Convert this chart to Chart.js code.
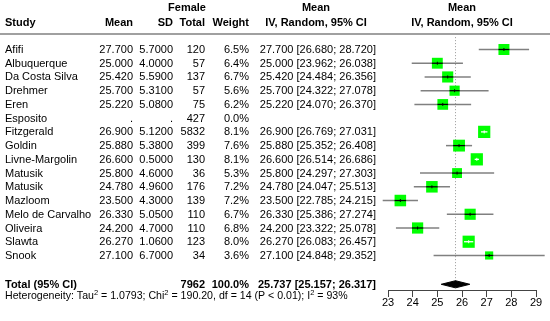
<!DOCTYPE html>
<html>
<head>
<meta charset="utf-8">
<script src="https://cdn.jsdelivr.net/npm/chart.js@4/dist/chart.umd.min.js"></script>
<style>
  html, body { margin: 0; padding: 0; background: #fff; }
  canvas { display: block; }
</style>
</head>
<body>
<canvas id="forest" width="550" height="321"></canvas>
<script>
'use strict';

// ── Data ───────────────────────────────────────────────────────────────────
const studies = ['Afifi', 'Albuquerque', 'Da Costa Silva', 'Drehmer', 'Eren', 'Esposito',
  'Fitzgerald', 'Goldin', 'Livne-Margolin', 'Matusik', 'Matusik', 'Mazloom',
  'Melo de Carvalho', 'Oliveira', 'Slawta', 'Snook'];
const means   = [27.700, 25.000, 25.420, 25.700, 25.220, null, 26.900, 25.880, 26.600, 25.800, 24.780, 23.500, 26.330, 24.200, 26.270, 27.100];
const sds     = [5.7000, 4.0000, 5.5900, 5.3100, 5.0800, null, 5.1200, 5.3800, 0.5000, 4.6000, 4.9600, 4.3000, 5.0500, 4.7000, 1.0600, 6.7000];
const totals  = [120, 57, 137, 57, 75, 427, 5832, 399, 130, 36, 176, 139, 110, 110, 123, 34];
const weights = [6.5, 6.4, 6.7, 5.6, 6.2, 0.0, 8.1, 7.6, 8.1, 5.3, 7.2, 7.2, 6.7, 6.8, 8.0, 3.6];
const ciLow   = [26.680, 23.962, 24.484, 24.322, 24.070, null, 26.769, 25.352, 26.514, 24.297, 24.047, 22.785, 25.386, 23.322, 26.083, 24.848];
const ciHigh  = [28.720, 26.038, 26.356, 27.078, 26.370, null, 27.031, 26.408, 26.686, 27.303, 25.513, 24.215, 27.274, 25.078, 26.457, 29.352];

const pooledMean  = 25.737;
const pooledLow   = 25.157;
const pooledHigh  = 26.317;
const pooledTotal = 7962;
const xTicks      = [23, 24, 25, 26, 27, 28, 29];

// heterogeneity line, [text, isSuperscript]
const hetParts = [
  ['Heterogeneity: Tau', false], ['2', true], [' = 1.0793; Chi', false], ['2', true],
  [' = 190.20, df = 14 (P < 0.01); I', false], ['2', true], [' = 93%', false]
];

// ── Layout (row units on the hidden y scale) ──────────────────────────────
const FONT      = '"Liberation Sans", Arial, sans-serif';
const ROW_TOTAL = 17.1;
const ROW_HET   = 17.95;
const ROW_HEAD1 = -3.05;
const ROW_HEAD2 = -1.97;
const GREEN     = '#00ff00';
const GREY      = '#808080';

const shown = studies.map((_, i) => i).filter(i => means[i] !== null && weights[i] > 0);
const side  = i => 4.3 * Math.sqrt(weights[i]);     // square side in px, grows with weight

function ciHalfPx(chart, i) {
  const s = chart.scales.x;
  return (s.getPixelForValue(ciHigh[i]) - s.getPixelForValue(ciLow[i])) / 2;
}
function narrow(chart, i) { return ciHalfPx(chart, i) < side(i) / 2; }

// ── Datasets ──────────────────────────────────────────────────────────────
const datasets = [];

// confidence-interval whiskers
shown.forEach(i => {
  datasets.push({
    data: [{ x: ciLow[i], y: i }, { x: ciHigh[i], y: i }],
    borderColor: GREY, borderWidth: 1.5, pointRadius: 0, clip: false, order: 6
  });
});

// dotted line at pooled mean
datasets.push({
  data: [{ x: pooledMean, y: -0.9 }, { x: pooledMean, y: ROW_TOTAL }],
  borderColor: '#999', borderWidth: 1, borderDash: [1, 2], pointRadius: 0, clip: false, order: 7
});

// weight squares
datasets.push({
  data: shown.map(i => ({ x: means[i], y: i })),
  showLine: false, pointStyle: 'rect',
  pointRadius: ctx => side(shown[ctx.dataIndex]) / Math.SQRT2,
  pointBackgroundColor: GREEN, pointBorderWidth: 0, clip: false, order: 4
});

// CI segment drawn over the square
datasets.push({
  data: shown.map(i => ({ x: means[i], y: i })),
  showLine: false, pointStyle: 'line',
  pointRadius: ctx => Math.min(side(shown[ctx.dataIndex]) / 2, ciHalfPx(ctx.chart, shown[ctx.dataIndex])),
  pointBorderColor: ctx => narrow(ctx.chart, shown[ctx.dataIndex]) ? '#fff' : '#000',
  pointBorderWidth: 1.3, clip: false, order: 3
});

// point estimate tick
datasets.push({
  data: shown.map(i => ({ x: means[i], y: i })),
  showLine: false, pointStyle: 'line', pointRotation: 90, pointRadius: 1.5,
  pointBorderColor: ctx => narrow(ctx.chart, shown[ctx.dataIndex]) ? '#fff' : '#000',
  pointBorderWidth: 1, clip: false, order: 2
});

// pooled diamond: upper half, lower half filled to it
const DIA = 0.26;
datasets.push({
  data: [{ x: pooledLow, y: ROW_TOTAL }, { x: pooledMean, y: ROW_TOTAL - DIA }, { x: pooledHigh, y: ROW_TOTAL }],
  borderColor: '#000', borderWidth: 1, pointRadius: 0, tension: 0, clip: false, order: 1
});
datasets.push({
  data: [{ x: pooledLow, y: ROW_TOTAL }, { x: pooledMean, y: ROW_TOTAL + DIA }, { x: pooledHigh, y: ROW_TOTAL }],
  borderColor: '#000', borderWidth: 1, pointRadius: 0, tension: 0, clip: false,
  fill: '-1', backgroundColor: '#000', order: 1
});

// ── Table text ────────────────────────────────────────────────────────────
function put(ctx, txt, x, y, align, bold, size) {
  ctx.font = (bold ? 'bold ' : '') + (size || 11) + 'px ' + FONT;
  ctx.textAlign = align;
  ctx.fillText(txt, x, y);
}

const tablePlugin = {
  id: 'table',
  afterDraw(chart) {
    const ctx = chart.ctx;
    const yS  = chart.scales.y;
    const Y   = r => yS.getPixelForValue(r) + 0.5;
    ctx.save();
    ctx.fillStyle = '#000';
    ctx.textBaseline = 'middle';

    // headers
    put(ctx, 'Female', 187, Y(ROW_HEAD1), 'center', true);
    put(ctx, 'Mean', 316, Y(ROW_HEAD1), 'center', true);
    put(ctx, 'Mean', 462, Y(ROW_HEAD1), 'center', true);
    put(ctx, 'Study', 5, Y(ROW_HEAD2), 'left', true);
    put(ctx, 'Mean', 133, Y(ROW_HEAD2), 'right', true);
    put(ctx, 'SD', 173, Y(ROW_HEAD2), 'right', true);
    put(ctx, 'Total', 205, Y(ROW_HEAD2), 'right', true);
    put(ctx, 'Weight', 249, Y(ROW_HEAD2), 'right', true);
    put(ctx, 'IV, Random, 95% CI', 316, Y(ROW_HEAD2), 'center', true);
    put(ctx, 'IV, Random, 95% CI', 462, Y(ROW_HEAD2), 'center', true);

    // rule under the header
    ctx.strokeStyle = '#a0a0a0';
    ctx.lineWidth = 2;
    ctx.beginPath();
    ctx.moveTo(0, chart.chartArea.top - 1);
    ctx.lineTo(chart.width, chart.chartArea.top - 1);
    ctx.stroke();

    // study rows
    studies.forEach((name, i) => {
      const y = Y(i);
      put(ctx, name, 5, y, 'left');
      put(ctx, means[i] === null ? '.' : means[i].toFixed(3), 133, y, 'right');
      put(ctx, sds[i] === null ? '.' : sds[i].toFixed(4), 173, y, 'right');
      put(ctx, String(totals[i]), 205, y, 'right');
      put(ctx, weights[i].toFixed(1) + '%', 249, y, 'right');
      if (means[i] !== null) {
        put(ctx, means[i].toFixed(3) + ' [' + ciLow[i].toFixed(3) + '; ' + ciHigh[i].toFixed(3) + ']', 376, y, 'right');
      }
    });

    // pooled row
    const yt = Y(ROW_TOTAL);
    put(ctx, 'Total (95% CI)', 5, yt, 'left', true);
    put(ctx, String(pooledTotal), 205, yt, 'right', true);
    put(ctx, '100.0%', 249, yt, 'right', true);
    put(ctx, pooledMean.toFixed(3) + ' [' + pooledLow.toFixed(3) + '; ' + pooledHigh.toFixed(3) + ']', 376, yt, 'right', true);

    // heterogeneity line
    let x = 5;
    const yh = Y(ROW_HET);
    ctx.textAlign = 'left';
    hetParts.forEach(([txt, sup]) => {
      ctx.font = (sup ? 7.5 : 10.6) + 'px ' + FONT;
      ctx.fillText(txt, x, sup ? yh - 4 : yh);
      x += ctx.measureText(txt).width;
    });
    ctx.restore();
  }
};

// ── Chart ─────────────────────────────────────────────────────────────────
new Chart(document.getElementById('forest'), {
  type: 'line',
  data: { datasets },
  plugins: [tablePlugin],
  options: {
    responsive: false,
    animation: false,
    events: [],
    devicePixelRatio: 1,
    layout: { padding: { left: 388, right: 14, top: 35, bottom: 0 } },
    plugins: { legend: { display: false }, tooltip: { enabled: false } },
    scales: {
      x: {
        type: 'linear', min: 23, max: 29,
        afterBuildTicks: s => { s.ticks = xTicks.map(v => ({ value: v })); },
        afterFit: s => { s.height = 31; },
        grid: { drawOnChartArea: false, drawTicks: true, tickLength: 7, color: '#444' },
        border: { display: true, color: '#444', width: 1 },
        ticks: { color: '#000', padding: -1, font: { family: FONT, size: 11 } }
      },
      y: {
        type: 'linear', display: false, reverse: true,
        min: -1.056, max: 17.516
      }
    }
  }
});
</script>
</body>
</html>
